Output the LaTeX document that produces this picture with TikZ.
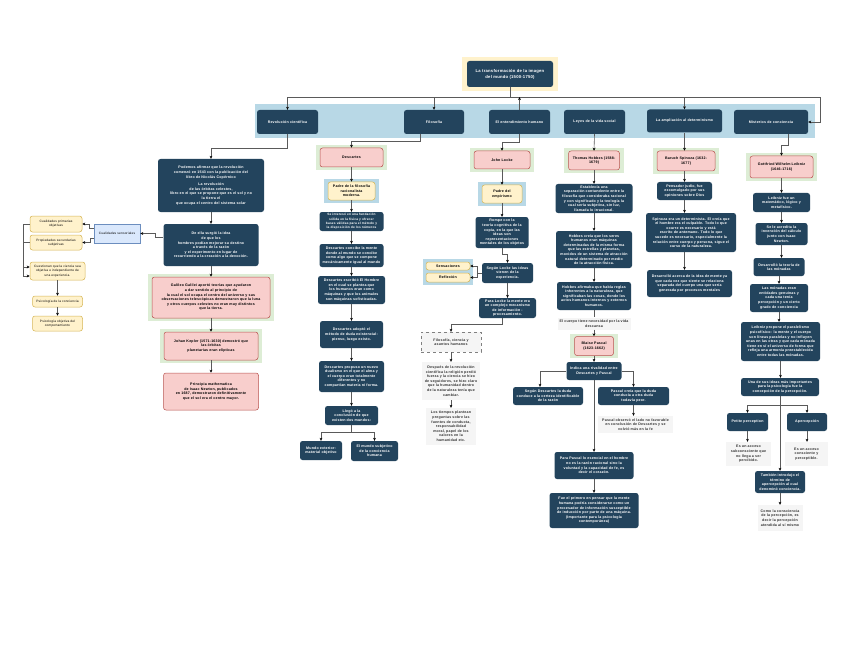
\documentclass[tikz,border=0pt]{standalone}
\usepackage{fontspec}
\setmainfont{Liberation Sans}[LetterSpace=5]
\usetikzlibrary{arrows.meta,fit,backgrounds}
\definecolor{dkc}{HTML}{23445D}
\definecolor{pkc}{HTML}{F8CECC}
\definecolor{pkd}{HTML}{B85450}
\definecolor{ylc}{HTML}{FFF2CC}
\definecolor{yld}{HTML}{D6B656}
\definecolor{gnc}{HTML}{DDEDD5}
\definecolor{blc}{HTML}{B8D8E6}
\definecolor{bxc}{HTML}{DAE8FC}
\definecolor{bxd}{HTML}{6C8EBF}
\definecolor{gyc}{HTML}{F5F5F5}
\definecolor{gyt}{HTML}{333333}
\definecolor{lnc}{HTML}{5A5A5A}
\tikzset{
  base/.style={font=\fontsize{3.6}{4.6}\selectfont\bfseries, align=center, inner sep=0pt, rounded corners=2.5pt},
  sz/.code 2 args={\pgfmathsetmacro\tw{#1-4}\tikzset{minimum width=#1pt, minimum height=#2pt, text width=\tw pt}},
  dkb/.style={base, fill=dkc, text=white},
  pkb/.style={base, fill=pkc, draw=pkd, line width=0.5pt},
  ylb/.style={base, fill=ylc, draw=yld, line width=0.5pt},
  bxb/.style={base, fill=bxc, draw=bxd, line width=0.5pt, rounded corners=0pt},
  gyb/.style={base, fill=gyc, text=gyt, rounded corners=0pt},
  smf/.style={font=\fontsize{3.2}{4.2}\selectfont},
  tnf/.style={font=\fontsize{3.2}{4.3}\selectfont\bfseries},
  hal/.style={rectangle, draw=none, fill=#1, inner xsep=4pt, inner ysep=3pt},
  ln/.style={draw=lnc, line width=0.6pt},
  arr/.style={draw=lnc, line width=0.6pt, -{Stealth[length=3pt,width=2.8pt,color=black]}},
}
\begin{document}
\begin{tikzpicture}[x=1pt,y=-1pt]
\useasboundingbox (0,0) rectangle (848,655);
\fill[blc] (255,104) rectangle (815,138);

% title and top row
\node[dkb, sz={86}{26}, font=\fontsize{4.2}{6.2}\selectfont\bfseries] (title) at (510,74) {La transformación de la imagen\\del mundo (1500-1750)};
\node[dkb, sz={61}{24}] (rev) at (287.5,122) {Revolución científica};
\node[dkb, sz={60}{24}] (fil) at (434,122) {Filosofía};
\node[dkb, sz={61}{24}] (ent) at (519.5,122) {El entendimiento humano};
\node[dkb, sz={61}{24}] (ley) at (594.5,122) {Leyes de la vida social};
\node[dkb, sz={75}{23}] (amp) at (684.5,121) {La ampliación al determinismo};
\node[dkb, sz={74}{24}] (mis) at (771,122) {Misterios de conciencia};
\coordinate (hub) at (510,97);
\coordinate (rc) at (820,122);

% Revolucion column
\node[dkb, sz={106}{53}] (pod) at (211,185.5) {Podemos afirmar que la revolución\\comenzó en 1543 con la publicación del\\libro de Nicolás Copérnico\\[3pt]La revolución\\de las órbitas celestes,\\libro en el que se propone que es el sol y no\\la tierra el\\que ocupa el centro del sistema solar};
\node[dkb, sz={95}{42}] (ell) at (211,245) {De ella surgió la idea\\de que los\\hombres podían mejorar su destino\\a través de la razón\\y el experimento en lugar de\\recurriendo a la creación a la devoción.};
\node[pkb, sz={118}{41}] (gal) at (211,297.5) {Galileo Galilei aportó teorías que ayudaron\\a dar sentido al principio de\\la cual el sol ocupa el centro del universo y sus\\observaciones telescópicas demostraron que la luna\\y otros cuerpos celestes no eran muy distintos\\que la tierra.};
\node[pkb, sz={94}{28}] (kep) at (211,346) {Johan Kepler (1571-1630) demostró que\\las órbitas\\planetarias eran elípticas};
\node[pkb, sz={95}{37}] (pri) at (211,391.5) {Principia mathematica\\de Isaac Newton, publicados\\en 1687, demostraron definitivamente\\que el sol era el centro mayor.};

% left group
\node[bxb, smf, sz={46}{19}] (csen) at (117,233.5) {Cualidades sensoriales};
\node[ylb, smf, sz={52}{16}] (cpri) at (56,224) {Cualidades primarias\\objetivas};
\node[ylb, smf, sz={52}{15}] (psec) at (56,242.5) {Propiedades secundarias\\subjetivas};
\node[ylb, smf, sz={55}{18}] (cue) at (57.5,271) {Cuestionan que la ciencia sea\\objetiva e independiente de\\una experiencia.};
\node[ylb, smf, sz={50}{11}] (pcon) at (57.5,301.5) {Psicología de la conciencia};
\node[ylb, smf, sz={50}{15}] (pobj) at (57.5,323.5) {Psicología objetiva del\\comportamiento};

% Descartes column
\node[pkb, sz={63}{19}] (des) at (351.5,157.5) {Descartes};
\node[ylb, sz={47}{18}] (pad) at (351.5,191) {Padre de la filosofía\\racionalista\\moderna.};
\node[dkb, tnf, sz={64}{19}] (d1) at (351.5,221.5) {Se interesó en una fundación\\sólida en la física y ofrecer\\bases válidas para el método y\\la disposición de los números};
\node[dkb, sz={64}{23}] (d2) at (351.5,255.5) {Descartes concibe la mente\\donde al mundo se concibe\\como algo que se compone\\mecánicamente igual al mundo};
\node[dkb, sz={67}{28}] (d3) at (351.5,290) {Descartes escribió El Hombre\\en el cual se plantea que\\los humanos eran como\\máquinas y que los animales\\son máquinas sofisticadas.};
\node[dkb, sz={63}{27}] (d4) at (351.5,334.5) {Descartes adoptó el\\método de duda existencial:\\pienso, luego existo.};
\node[dkb, sz={65}{31}] (d5) at (351.5,376.5) {Descartes propuso un nuevo\\dualismo en el que el alma y\\el cuerpo eran totalmente\\diferentes y no\\compartían materia ni forma.};
\node[dkb, sz={53}{19}] (d6) at (351.5,415.5) {Llegó a la\\conclusión de que\\existen dos mundos:};
\node[dkb, sz={42}{19}] (d7) at (321,450.5) {Mundo exterior:\\material objetivo};
\node[dkb, sz={47}{20}] (d8) at (374.5,451) {El mundo subjetivo\\de la conciencia\\humana};

% Locke column
\node[pkb, sz={56}{18}] (loc) at (502,160) {John Locke};
\node[ylb, sz={40}{18}] (pe) at (502,194) {Padre del\\empirismo};
\node[dkb, sz={53}{31}] (l1) at (502,232.5) {Rompe con la\\teoría cognitiva de la\\copia, en la que las\\ideas son\\representaciones\\mentales de los objetos};
\node[dkb, sz={51}{20}] (l2) at (507.5,273) {Según Locke las ideas\\vienen de la\\experiencia.};
\node[ylb, sz={44}{8}] (sens) at (448,266) {Sensaciones};
\node[ylb, sz={44}{9}] (refl) at (448,277.5) {Reflexión};
\node[dkb, sz={57}{20}] (l3) at (507.5,308) {Para Locke la mente era\\un complejo mecanismo\\de información -\\procesamiento.};
\node[gyb, sz={60}{20}, draw=gray, dashed, line width=0.4pt] (ffil) at (451,342) {Filosofía, ciencia y\\asuntos humanos};
\node[gyb, sz={58}{38}] (g1) at (451,381) {Después de la revolución\\científica la religión perdió\\fuerza y la ciencia se hizo\\de seguidores, se hizo claro\\que la humanidad dentro\\de la naturaleza tenía que\\cambiar.};
\node[gyb, sz={50}{37}] (g2) at (451,426.5) {Los tiempos plantean\\preguntas sobre las\\fuentes de conducta,\\responsabilidad\\moral, papel de los\\valores en la\\humanidad etc.};

% Hobbes / Pascal column
\node[pkb, sz={51}{19}] (hob) at (594,160.5) {Thomas Hobbes (1588-\\1679)};
\node[dkb, sz={77}{29}] (h1) at (594,198.5) {Establecía una\\separación contundente entre la\\filosofía que consideraba racional\\y con significado y la teología la\\cual sería subjetiva, sin luz,\\llamada lo irracional.};
\node[dkb, sz={76}{37}] (h2) at (594,249.5) {Hobbes creía que los seres\\humanos eran máquinas\\determinadas de la misma forma\\que las estrellas y planetas,\\movidos de un sistema de atracción\\natural determinado por medio\\de la atracción física.};
\node[dkb, sz={74}{28}] (h3) at (594,296) {Hobbes afirmaba que había reglas\\inherentes a la naturaleza, que\\significaban las cosas, donde los\\actos humanos internos y externos\\humanos.};
\node[gyb, sz={73}{12}] (hg) at (594,323.5) {El cuerpo tiene necesidad por la vida\\descansa};
\node[pkb, sz={39}{19}] (pas) at (594,346) {Blaise Pascal\\(1623-1662)};
\node[dkb, sz={55}{18}] (p1) at (594,371) {Indica una rivalidad entre\\Descartes y Pascal};
\node[dkb, sz={70}{18}] (p2) at (548,396) {Según Descartes la duda\\conduce a la certeza identificable\\de la razón};
\node[dkb, sz={71}{18}] (p3) at (633.5,396) {Pascal creía que la duda\\conducía a otra duda\\todavía peor.};
\node[gyb, sz={75}{17}] (pg) at (635.5,424.5) {Pascal observó el lado no favorable\\en conclusión de Descartes y se\\volvió más en la fe};
\node[dkb, sz={79}{27}] (p4) at (594,465.5) {Para Pascal lo esencial en el hombre\\no es la razón racional sino la\\voluntad y la capacidad de fe, es\\decir el corazón.};
\node[dkb, sz={89}{35}] (p5) at (594,510.5) {Fue el primero en pensar que la mente\\humana podría considerarse como un\\procesador de información susceptible\\de inducción por parte de una máquina.\\(Importante para la psicología\\contemporánea)};

% Spinoza column
\node[pkb, sz={58}{20}] (spi) at (686,161) {Baruch Spinoza (1632-\\1677)};
\node[dkb, sz={55}{18}] (s1) at (684.5,191) {Pensador judío, fue\\excomulgado por sus\\opiniones sobre Dios};
\node[dkb, sz={90}{39}] (s2) at (691,232.5) {Spinoza era un determinista. El creía que\\el hombre era el culpable. Todo lo que\\ocurre es necesario y está\\escrito de antemano. Todo lo que\\sucede es necesario, especialmente la\\relación entre cuerpo y persona, sigue el\\curso de la naturaleza.};
\node[dkb, sz={85}{27}] (s3) at (689.5,283.5) {Desarrolló acerca de la idea de mente ya\\que cada vez que siente se relaciona\\separada del cuerpo una que sería\\generada por procesos mentales};

% Leibniz column
\node[pkb, sz={63}{22}] (lei) at (781.5,167) {Gottfried Wilhelm Leibniz\\(1646-1716)};
\node[dkb, sz={57}{19}] (e1) at (781.5,202.5) {Leibniz fue un\\matemático, lógico y\\metafísico.};
\node[dkb, sz={52}{22}] (e2) at (781.5,234) {Se le acredita la\\invención del cálculo\\junto con Isaac\\Newton.};
\node[dkb, sz={51}{18}] (e3) at (779,267) {Desarrolló la teoría de\\las mónadas};
\node[dkb, sz={58}{28}] (e4) at (779,298) {Las mónadas eran\\entidades genuinas y\\cada una tenía\\percepción y un cierto\\grado de conciencia};
\node[dkb, sz={79}{39}] (e5) at (780.5,341.5) {Leibniz propone el paralelismo\\psicofísico: la mente y el cuerpo\\son líneas paralelas y no influyen\\unas en las otras y que cada mónada\\tiene en sí el universo de forma que\\refleja una armonía preestablecida\\entre todas las mónadas.};
\node[dkb, sz={78}{18}] (e6) at (780,387) {Una de sus ideas más importantes\\para la psicología fue la\\concepción de la percepción.};
\node[dkb, sz={41}{18}] (pp) at (747.5,422) {Petite perception};
\node[dkb, sz={40}{18}] (ap) at (807,422) {Apercepción};
\node[gyb, sz={45}{24}] (pg1) at (748.5,454) {Es un acceso\\subconsciente que\\no llega a ser\\percibido.};
\node[gyb, sz={43}{24}] (pg2) at (806.5,454) {Es un acceso\\consciente y\\perceptible.};
\node[dkb, sz={50}{22}] (e7) at (780,482) {También introdujo el\\término de\\apercepción al cual\\denominó conciencia.};
\node[gyb, sz={45}{26}] (eg) at (780,518) {Como la consciencia\\de la percepción, es\\decir la percepción\\atendida al sí mismo};

% halos
\begin{scope}[on background layer]
\fill[white] (0,0) rectangle (848,655);
\node[hal=ylc, inner xsep=5pt, inner ysep=4pt, fit=(title)] (htitle) {};
\node[hal=gnc, fit=(gal)] (hgal) {};
\node[hal=gnc, fit=(kep)] (hkep) {};
\node[hal=gnc, fit=(des)] (hdes) {};
\node[hal=blc, fit=(pad)] (hpad) {};
\node[hal=gnc, fit=(loc)] (hloc) {};
\node[hal=blc, fit=(pe)] (hpe) {};
\node[hal=blc, inner sep=3pt, fit=(sens)(refl)] (hsr) {};
\node[hal=gnc, fit=(hob)] (hhob) {};
\node[hal=gnc, inner ysep=2pt, fit=(pas)] (hpas) {};
\node[hal=gnc, fit=(spi)] (hspi) {};
\node[hal=gnc, fit=(lei)] (hlei) {};
\end{scope}

% connectors: top
\draw[ln] (title.south) -- (hub);
\draw[arr] (hub) -| (rev.north);
\draw[arr] (hub) -| (fil.north);
\draw[arr] (hub) -| (amp.north);
\draw[arr] (hub) -| (rc) -- (mis.east);
\draw[arr] (ent.north) -- (ent.north |- hub);

% Revolucion
\draw[arr] (rev.south) -- ++(0,14) -| (pod.north);
\draw[arr] (pod.south) -- (ell.north);
\draw[arr] (ell.south) -- (gal.north);
\draw[arr] (gal.south) -- (kep.north);
\draw[arr] (kep.south) -- (pri.north);
\draw[arr] ([yshift=8pt]ell.west) -- ++(-8,0) |- (csen.east);
\draw[arr] ([yshift=5pt]csen.west) -- ++(-4,0) |- (cpri.east);
\draw[arr] ([yshift=-5pt]csen.west) -- ++(-3,0) |- (psec.east);
\draw[arr] (cpri.west) -- ++(-6,0) |- ([yshift=4pt]cue.west);
\draw[arr] (psec.west) -- ++(-6,0) |- ([yshift=-5pt]cue.west);
\draw[arr] (cue.south) -- (pcon.north);
\draw[arr] (pcon.south) -- (pobj.north);

% Descartes
\draw[arr] ([xshift=-14pt]fil.south) -- ++(0,7) -| (des.north);
\draw[arr] (des.south) -- (pad.north);
\draw[arr] (pad.south) -- (d1.north);
\draw[arr] (d1.south) -- (d2.north);
\draw[arr] (d2.south) -- (d3.north);
\draw[arr] (d3.south) -- (d4.north);
\draw[arr] (d4.south) -- (d5.north);
\draw[arr] (d5.south) -- (d6.north);
\draw[arr] (d6.south) -- ++(0,7) -| (d7.north);
\draw[arr] (d6.south) -- ++(0,7) -| (d8.north);

% Locke
\draw[arr] (ent.south) -- ++(0,8) -| (loc.north);
\draw[arr] (loc.south) -- (pe.north);
\draw[arr] (pe.south) -- (l1.north);
\draw[arr] (l1.south) -- ++(0,6) -| (l2.north);
\draw[arr] (l2.west) -- ++(-5,0) |- (sens.east);
\draw[arr] (l2.west) -- ++(-5,0) |- (refl.east);
\draw[arr] (l2.south) -- (l3.north);
\draw[arr] ([xshift=-5pt]l3.south) -- ++(0,6) -| (ffil.north);
\draw[arr] (ffil.south) -- (g1.north);
\draw[arr] (g1.south) -- (g2.north);

% Hobbes / Pascal
\draw[arr] (ley.south) -- (hob.north);
\draw[arr] (hob.south) -- (h1.north);
\draw[arr] (h1.south) -- (h2.north);
\draw[arr] (h2.south) -- (h3.north);
\draw[ln] (h3.south) -- (hg.north);
\draw[arr] (hg.south) -- (pas.north);
\draw[arr] (pas.south) -- (p1.north);
\draw[arr] (p1.west) -| ([xshift=-8pt]p2.north);
\draw[arr] (p1.east) -| (p3.north);
\draw[arr] (p3.south) -- (p3.south |- pg.north);
\draw[arr] (p1.south) -- (p4.north);
\draw[arr] (p4.south) -- (p5.north);

% Spinoza
\draw[arr] (amp.south) -- (amp.south |- spi.north);
\draw[arr] (s1.north |- spi.south) -- (s1.north);
\draw[arr] (s1.south) -- (s1.south |- s2.north);
\draw[arr] (s1.south |- s2.south) -- (s1.south |- s3.north);

% Leibniz
\draw[arr] ([xshift=17pt]mis.south) -- ++(0,11) -| (lei.north);
\draw[arr] (lei.south) -- (e1.north);
\draw[arr] (e1.south) -- (e2.north);
\draw[arr] (e2.south) -- (e2.south |- e3.north);
\draw[arr] (e3.south) -- (e4.north);
\draw[arr] (e4.south) -- (e4.south |- e5.north);
\draw[arr] (e5.south) -- (e5.south |- e6.north);
\draw[arr] (e6.south) -- ++(0,9) -| (pp.north);
\draw[arr] (e6.south) -- ++(0,9) -| (ap.north);
\draw[arr] (e6.south) -- (e7.north);
\draw[arr] (pp.south) -- (pp.south |- pg1.north);
\draw[arr] (ap.south) -- (ap.south |- pg2.north);
\draw[arr] (e7.south) -- (eg.north);
\end{tikzpicture}
\end{document}
